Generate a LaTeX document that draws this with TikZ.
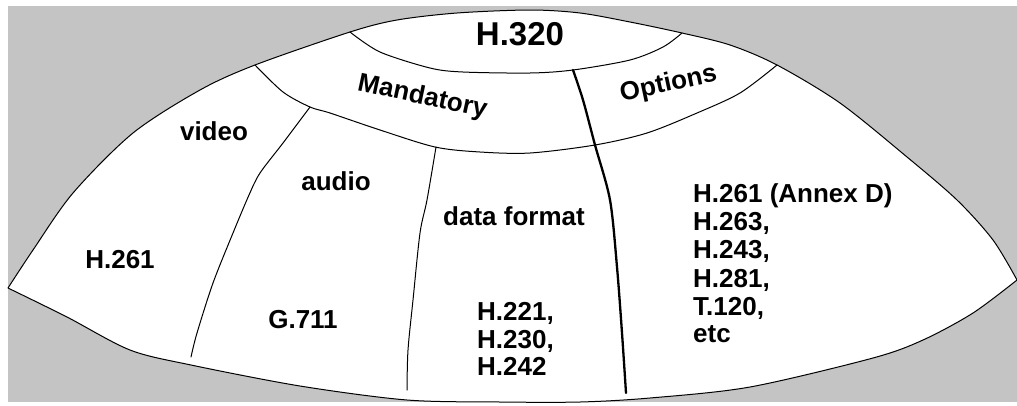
\documentclass[tikz,border=0pt]{standalone}
\usepackage{fontspec}
\setmainfont{Liberation Sans}
\definecolor{bg}{RGB}{196,196,196}
\begin{document}
\begin{tikzpicture}[x=1pt,y=-1pt,
  thinline/.style={line width=1pt, line join=round, line cap=round},
  thickline/.style={line width=2.3pt, line join=round, line cap=round},
  lbl/.style={font=\bfseries\fontsize{26}{28}\selectfont, inner sep=0pt},
  big/.style={font=\bfseries\fontsize{33}{36}\selectfont, inner sep=0pt}]
\useasboundingbox (0,0) rectangle (1017,405);
\fill[white] (0,0) rectangle (1017,405);
\fill[bg] (8,6) rectangle (1017,402);
% outer umbrella shape
\path[fill=white, draw=black, thinline]
  plot[smooth, tension=0.5] coordinates {(8,288) (33,250) (73,193) (133,133) (200,90) (255,65) (350,32) (397,20) (457,13) (530,10) (580,13) (630,22) (682,33) (730,45) (777,65) (840,103) (907,157) (957,200) (993,240) (1017,280)}
  -- plot[smooth, tension=0.5] coordinates {(1017,280) (973,313) (923,340) (873,358) (750,387) (650,398) (580,402) (500,402) (407,400) (300,386) (191,365) (130,350) (67,317) (8,288)}
  -- cycle;
% H.320 cap
\draw[thinline] plot[smooth, tension=0.5] coordinates {(350,32) (380,52) (430,68) (463,72) (530,73) (573,70) (630,60) (663,47) (682,33)};
% Mandatory / Options band
\draw[thinline] plot[smooth, tension=0.5] coordinates {(255,65) (283,92) (310,107) (330,113) (380,130) (435,147) (480,152) (530,153) (595,145) (647,133) (697,113) (740,93) (777,65)};
% dividers
\draw[thickline] plot[smooth, tension=0.5] coordinates {(573,70) (583,100) (595,145) (610,200) (617,267) (622,333) (626,393)};
\draw[thinline] plot[smooth, tension=0.5] coordinates {(310,107) (283,143) (260,173) (249,195) (233,233) (213,283) (197,333) (191,357)};
\draw[thinline] plot[smooth, tension=0.5] coordinates {(436,147) (427,200) (420,233) (413,300) (408,350) (407,390)};
% labels
\node[big, anchor=base] (h320) at (520,45) {H.320};
\node[lbl, anchor=base, rotate=-12] (mand) at (421,104) {Mandatory};
\node[lbl, anchor=base, rotate=12] (opt) at (670,91) {Options};
\node[lbl, anchor=base] (video) at (214,140) {video};
\node[lbl, anchor=base] (audio) at (336,190) {audio};
\node[lbl, anchor=base] (data) at (514,225) {data format};
\node[lbl, anchor=base] (h261) at (120,268) {H.261};
\node[lbl, anchor=base] (g711) at (303,328) {G.711};
\node[lbl, anchor=base west] (d1) at (477,320) {H.221,};
\node[lbl, anchor=base west] (d2) at (477,348) {H.230,};
\node[lbl, anchor=base west] (d3) at (477,375) {H.242};
\node[lbl, anchor=base west] (o1) at (693,202) {H.261 (Annex D)};
\node[lbl, anchor=base west] (o2) at (693,230) {H.263,};
\node[lbl, anchor=base west] (o3) at (693,258) {H.243,};
\node[lbl, anchor=base west] (o4) at (693,287) {H.281,};
\node[lbl, anchor=base west] (o5) at (693,315) {T.120,};
\node[lbl, anchor=base west] (o6) at (693,342) {etc};
\end{tikzpicture}
\end{document}
